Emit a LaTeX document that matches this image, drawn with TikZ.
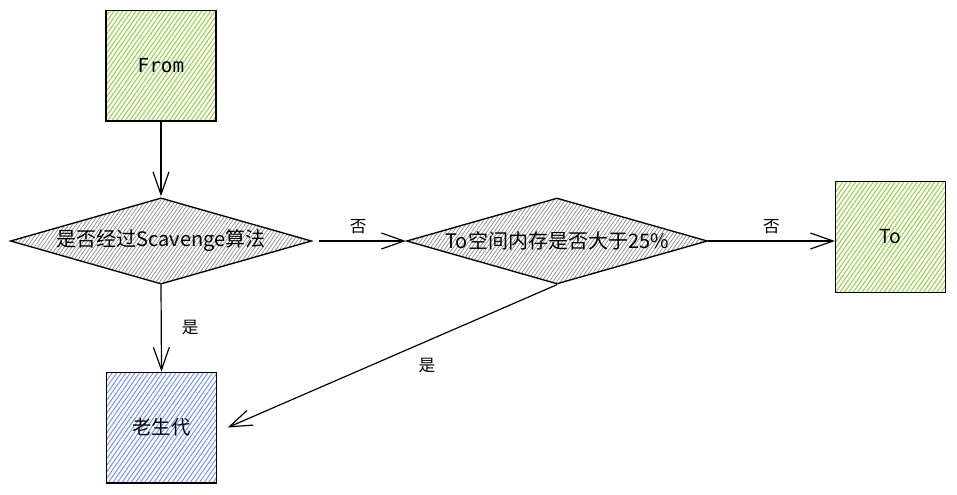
\documentclass[tikz,border=0pt]{standalone}
\usepackage{fontspec}
\newfontfamily\cjk{Noto Sans CJK SC}
\newfontfamily\monof{DejaVu Sans Mono}
\usetikzlibrary{patterns.meta,arrows.meta,shapes.geometric}
\definecolor{hgreen}{RGB}{160,210,90}
\definecolor{hblue}{RGB}{125,150,240}
\definecolor{hgray}{RGB}{140,140,140}
\tikzset{
  box/.style={draw=black,line width=1pt,minimum width=82.5pt,minimum height=83pt,inner sep=0pt,
    font=\cjk\fontsize{14.5}{16}\selectfont},
  greenbox/.style={box,pattern={Lines[angle=55,distance=2.7pt,line width=0.9pt]},pattern color=hgreen},
  bluebox/.style={box,pattern={Lines[angle=55,distance=2.8pt,line width=0.8pt]},pattern color=hblue},
  decision/.style={diamond,draw=black,line width=1pt,minimum width=225.75pt,minimum height=64.5pt,
    shape aspect=3.5,inner sep=0pt,pattern={Lines[angle=55,distance=2.3pt,line width=0.55pt]},pattern color=hgray,
    font=\cjk\fontsize{15}{17}\selectfont},
  arr/.style={draw=black,line width=0.9pt,-{Straight Barb[length=17pt,width=12pt,line width=0.9pt]}},
  lbl/.style={font=\cjk\fontsize{12.5}{14}\selectfont,inner sep=1pt}
}
\begin{document}
\begin{tikzpicture}[x=0.75pt,y=-0.75pt]
\useasboundingbox (0,0) rectangle (957,494);
\node[greenbox,font=\monof\fontsize{14.5}{16}\selectfont] (from) at (161,65.5) {From};
\node[decision] (d1) at (161,241) {是否经过Scavenge算法};
\node[decision] (d2) at (557,241) {To空间内存是否大于25\%};
\node[greenbox] (to) at (890.5,237) {To};
\node[bluebox] (old) at (161.5,427.5) {老生代};
\draw[arr] (from.south) -- ([yshift=1pt]d1.north);
\draw[arr] (d1.south) -- (old.north) node[lbl,midway,right=14pt] {是};
\draw[arr] ([xshift=5pt]d1.east) -- (d2.west) node[lbl,midway,above=4pt,xshift=-3pt] {否};
\draw[arr] (d2.east) -- (d2.east -| to.west) node[lbl,midway,above=4pt] {否};
\draw[arr] (d2.south) -- ([xshift=8pt]old.east) node[lbl,pos=0.33,below=18pt,xshift=-16pt] {是};
\end{tikzpicture}
\end{document}
